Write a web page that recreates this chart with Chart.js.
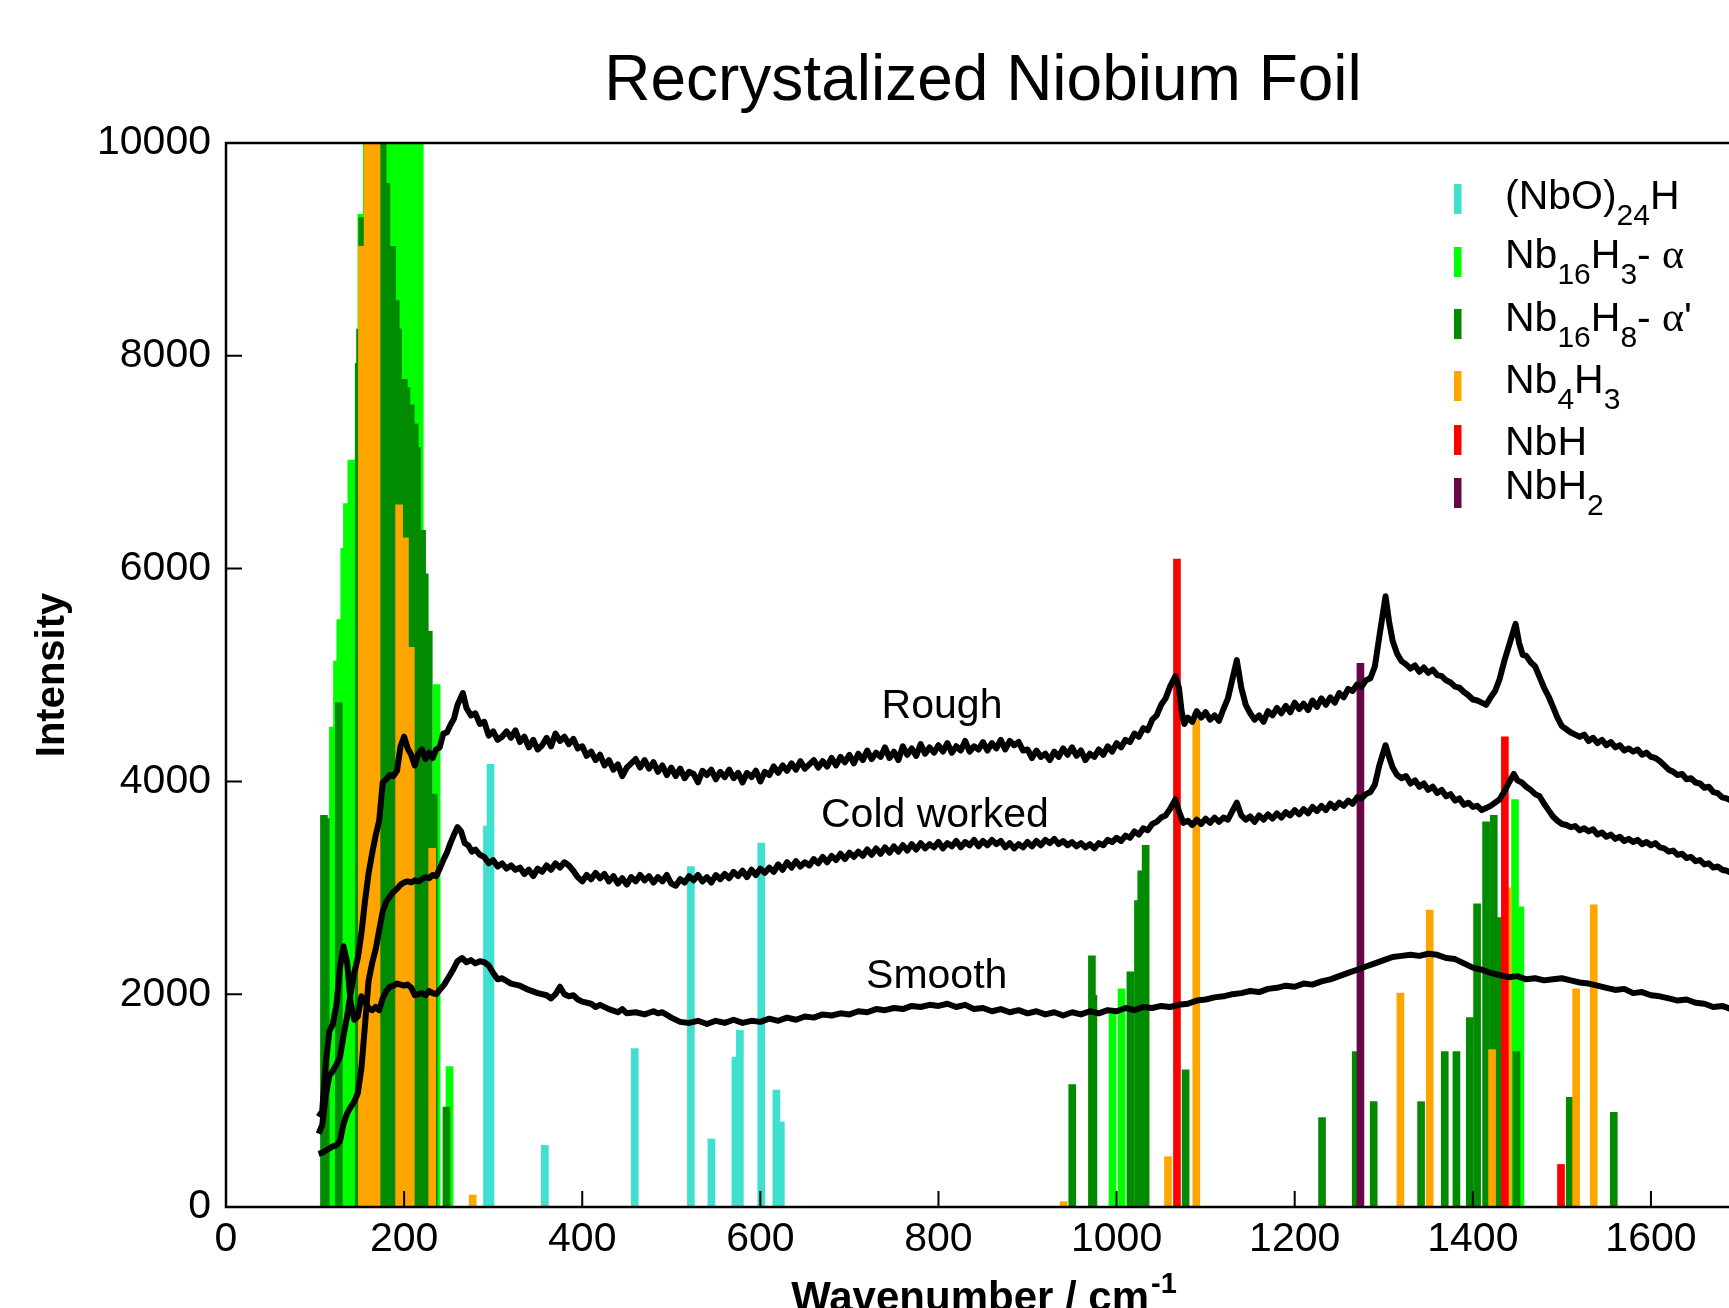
<!DOCTYPE html>
<html>
<head>
<meta charset="utf-8">
<title>Recrystalized Niobium Foil</title>
<script src="https://cdn.jsdelivr.net/npm/chart.js@4.4.1/dist/chart.umd.min.js"></script>
<style>
  html, body { margin: 0; padding: 0; background: #fff; overflow: hidden; }
  #wrap { position: absolute; left: 0; top: 0; width: 1760px; height: 1308px; }
</style>
</head>
<body>
<div id="wrap"><canvas id="ramanChart"></canvas></div>
<script>

// reference lines, [wavenumber, intensity]
var nboH = [[293,3580],[297,4160],[358,580],[459,1490],[522,3200],[545,640],[572,1410],[577,1660],[601,3420],[618,1100],[623,800]];

var nb16h3 = [[120,4510],[124.6,5130],[128.3,5520],[132.8,6190],[135.8,6610],[140.7,7020],[152,9330],[158,10600],[164,11200],
  [170,11800],[176,12100],[182,11900],[188,11500],[194,11200],[200,10900],[206,10700],[212,10500],[217.6,10300],
  [236.5,4910],[251,1320],[995.5,1810],[1005.6,2050],[1447.4,3830],[1453.4,2820]];

var nb16h8 = [[110,3680],[112,3650],[126.7,4740],[149,7930],[150.5,8250],[153,9300],[160,10800],[168,11500],[176,11800],
  [180.1,9620],[186.5,9030],[190.6,8520],[193.2,8250],[199.6,7780],[202.6,7700],[207.5,7540],[212,7360],[214.6,7140],
  [220.2,6360],[223.2,5950],[227.7,5410],[233.3,3880],[247.5,940],[950.2,1150],[972.3,2360],[974,1990],
  [1015.5,2210],[1024,2880],[1027.7,3160],[1032.6,3400],[1077.5,1290],[1230.7,840],[1268.5,1460],[1288.7,990],
  [1341.9,990],[1368.5,1460],[1381.6,1460],[1396.6,1780],[1404.8,2850],[1414.9,3620],[1423.5,3680],[1429.9,2720],
  [1449,1460],[1508.8,1030],[1558.3,890]];

var nb4h3 = [[152.6,9030],[159,11000],[165,11400],[169,11200],[194.4,6600],[200.9,6290],[207.5,5260],[231.5,3370],
  [277,113],[940.5,50],[1057.7,473],[1089.5,4650],[1318.7,2010],[1351.6,2790],[1421.6,1480],[1439,3000],
  [1516,2050],[1535.8,2840]];

var nbH = [[1067.8,6090],[1436,4420],[1499,400]];

var nbH2 = [[1273.8,5110]];

// measured spectra, [wavenumber, intensity]
var rough = [[104,690],[108,770],[112,1050],[116,1230],[120,1280],[124,1340],[128,1410],[132,1610],[136,1790],[140,2010],
  [144,2200],[148,2340],[152,2570],[156,2870],[160,3130],[164,3320],[168,3490],[172,3630],[176,3990],[180,4020],
  [184,4060],[188,4050],[192,4100],[196,4330],[200,4420],[204,4310],[208,4250],[212,4150],[216,4260],[220,4300],
  [224,4210],[228,4270],[232,4220],[236,4300],[240,4320],[244,4450],[248,4460],[252,4530],[256,4590],[260,4720],
  [266,4830],[270,4690],[275,4620],[280,4640],[285,4540],[290,4560],[295,4430],[300,4470],[305,4390],[310,4420],
  [315,4470],[320,4410],[325,4480],[330,4370],[335,4420],[340,4320],[345,4390],[350,4300],[355,4340],[360,4410],
  [365,4330],[370,4450],[375,4380],[380,4420],[385,4350],[390,4400],[395,4310],[400,4330],[405,4240],[410,4280],
  [415,4200],[420,4250],[425,4150],[430,4200],[435,4110],[440,4160],[445,4050],[450,4130],[455,4170],[460,4210],
  [465,4130],[470,4200],[475,4120],[480,4180],[485,4090],[490,4150],[495,4060],[500,4130],[505,4050],[510,4120],
  [515,4030],[520,4090],[525,4070],[530,3990],[535,4100],[540,4060],[545,4110],[550,4020],[555,4090],[560,4040],
  [565,4110],[570,4030],[575,4080],[580,3990],[585,4080],[590,4040],[595,4100],[600,4000],[605,4090],[610,4060],
  [615,4140],[620,4080],[625,4150],[630,4100],[635,4170],[640,4110],[645,4190],[650,4120],[660,4200],[665,4130],
  [670,4190],[675,4140],[680,4220],[685,4150],[690,4230],[695,4180],[700,4250],[705,4170],[710,4260],[715,4200],
  [720,4290],[725,4210],[730,4270],[735,4230],[740,4320],[745,4220],[750,4280],[755,4200],[760,4330],[765,4250],
  [770,4310],[775,4240],[780,4350],[785,4260],[790,4320],[795,4270],[800,4340],[805,4280],[810,4360],[815,4270],
  [820,4330],[825,4290],[830,4380],[835,4280],[840,4330],[845,4300],[850,4370],[855,4290],[860,4360],[865,4310],
  [870,4390],[875,4300],[880,4380],[885,4340],[890,4370],[895,4290],[900,4300],[905,4220],[910,4290],[915,4230],
  [920,4260],[925,4200],[930,4280],[935,4230],[940,4310],[945,4250],[950,4320],[955,4240],[960,4290],[965,4200],
  [970,4260],[975,4230],[980,4300],[985,4250],[990,4330],[995,4280],[1000,4360],[1005,4320],[1010,4390],[1015,4370],
  [1020,4450],[1025,4420],[1030,4500],[1035,4480],[1040,4580],[1045,4620],[1050,4720],[1055,4780],[1060,4890],[1066,4990],
  [1070,4880],[1073,4660],[1076,4540],[1080,4600],[1085,4560],[1090,4660],[1095,4600],[1100,4650],[1105,4580],[1110,4620],
  [1115,4570],[1120,4680],[1125,4780],[1130,4960],[1135,5140],[1140,4880],[1145,4720],[1150,4640],[1155,4580],[1160,4620],
  [1165,4560],[1170,4660],[1175,4620],[1180,4690],[1185,4640],[1190,4710],[1195,4650],[1200,4740],[1205,4680],[1210,4730],
  [1215,4670],[1220,4760],[1225,4700],[1230,4780],[1235,4720],[1240,4790],[1245,4740],[1250,4830],[1255,4790],[1260,4870],
  [1265,4850],[1270,4910],[1275,4890],[1280,4950],[1285,4970],[1290,5080],[1295,5360],[1302,5740],[1306,5500],[1310,5320],
  [1315,5200],[1320,5130],[1325,5100],[1330,5060],[1335,5090],[1340,5030],[1345,5070],[1350,5020],[1355,5050],[1360,5000],
  [1365,4990],[1370,4950],[1375,4930],[1380,4890],[1385,4880],[1390,4840],[1395,4810],[1400,4770],[1405,4760],[1410,4740],
  [1415,4720],[1420,4790],[1425,4850],[1430,4960],[1435,5120],[1440,5260],[1448,5480],[1452,5300],[1456,5190],[1460,5180],
  [1465,5120],[1470,5080],[1475,4980],[1480,4880],[1485,4800],[1490,4700],[1495,4600],[1500,4520],[1505,4490],[1510,4460],
  [1515,4440],[1520,4420],[1525,4440],[1530,4380],[1535,4410],[1540,4360],[1545,4390],[1550,4340],[1555,4370],[1560,4320],
  [1565,4340],[1570,4290],[1575,4310],[1580,4280],[1585,4300],[1590,4250],[1595,4270],[1600,4230],[1605,4220],[1610,4190],
  [1615,4150],[1620,4110],[1625,4090],[1630,4060],[1635,4070],[1640,4020],[1645,4030],[1650,3990],[1655,3980],[1660,3940],
  [1665,3950],[1670,3900],[1675,3890],[1680,3850],[1685,3840],[1690,3820],[1695,3790],[1700,3780]];

var coldWorked = [[104,500],[108,510],[112,530],[116,550],[120,570],[124,580],[128,620],[132,780],[136,880],[140,940],
  [144,990],[148,1070],[152,1300],[156,1700],[160,2120],[164,2290],[168,2420],[172,2600],[176,2780],[180,2870],
  [184,2920],[188,2960],[192,2990],[196,3030],[200,3050],[204,3060],[208,3050],[212,3070],[216,3060],[220,3080],
  [224,3100],[228,3090],[232,3120],[236,3110],[240,3180],[244,3260],[248,3330],[252,3420],[256,3500],[260,3570],
  [264,3530],[268,3420],[272,3400],[276,3340],[280,3360],[285,3310],[290,3290],[295,3230],[300,3260],[305,3200],
  [310,3230],[315,3180],[320,3210],[325,3170],[330,3190],[335,3130],[340,3170],[345,3110],[350,3180],[355,3150],
  [360,3210],[365,3170],[370,3230],[375,3190],[380,3240],[385,3210],[390,3160],[395,3100],[400,3060],[405,3120],
  [410,3080],[415,3140],[420,3090],[425,3130],[430,3060],[435,3110],[440,3040],[445,3090],[450,3030],[455,3100],
  [460,3060],[465,3120],[470,3070],[475,3110],[480,3050],[485,3100],[490,3060],[495,3120],[500,3040],[505,3020],
  [510,3080],[515,3050],[520,3110],[525,3070],[530,3120],[535,3060],[540,3100],[545,3050],[550,3120],[555,3080],
  [560,3130],[565,3090],[570,3150],[575,3110],[580,3160],[585,3100],[590,3170],[595,3120],[600,3180],[605,3140],
  [610,3190],[615,3150],[620,3220],[625,3170],[630,3240],[635,3190],[640,3250],[645,3200],[650,3240],[655,3210],
  [660,3270],[665,3230],[670,3290],[675,3240],[680,3300],[685,3260],[690,3320],[695,3270],[700,3330],[705,3290],
  [710,3340],[715,3300],[720,3360],[725,3310],[730,3370],[735,3320],[740,3380],[745,3330],[750,3390],[755,3340],
  [760,3400],[765,3350],[770,3410],[775,3360],[780,3420],[785,3370],[790,3410],[795,3380],[800,3430],[805,3370],
  [810,3420],[815,3390],[820,3440],[825,3380],[830,3430],[835,3400],[840,3450],[845,3390],[850,3440],[855,3400],
  [860,3450],[865,3410],[870,3440],[875,3380],[880,3420],[885,3370],[890,3410],[895,3380],[900,3430],[905,3390],
  [910,3440],[915,3400],[920,3450],[925,3420],[930,3460],[935,3410],[940,3440],[945,3400],[950,3430],[955,3390],
  [960,3420],[965,3380],[970,3410],[975,3370],[980,3420],[985,3400],[990,3450],[995,3430],[1000,3470],[1005,3440],
  [1010,3490],[1015,3470],[1020,3530],[1025,3500],[1030,3560],[1035,3540],[1040,3600],[1045,3620],[1050,3660],[1055,3680],
  [1060,3740],[1066,3830],[1070,3720],[1075,3610],[1080,3630],[1085,3590],[1090,3640],[1095,3600],[1100,3650],[1105,3610],
  [1110,3660],[1115,3620],[1120,3660],[1125,3640],[1130,3720],[1135,3800],[1140,3680],[1145,3640],[1150,3670],[1155,3620],
  [1160,3680],[1165,3640],[1170,3690],[1175,3650],[1180,3700],[1185,3660],[1190,3710],[1195,3680],[1200,3730],[1205,3690],
  [1210,3740],[1215,3700],[1220,3760],[1225,3720],[1230,3770],[1235,3730],[1240,3790],[1245,3750],[1250,3800],[1255,3770],
  [1260,3820],[1265,3790],[1270,3850],[1275,3840],[1280,3880],[1285,3900],[1290,3970],[1295,4150],[1302,4340],[1306,4230],
  [1310,4130],[1315,4060],[1320,4030],[1325,4050],[1330,3980],[1335,4010],[1340,3950],[1345,3980],[1350,3920],[1355,3950],
  [1360,3890],[1365,3920],[1370,3860],[1375,3880],[1380,3820],[1385,3840],[1390,3780],[1395,3800],[1400,3760],[1405,3770],
  [1410,3730],[1415,3750],[1420,3770],[1425,3800],[1430,3830],[1435,3900],[1440,3980],[1446,4070],[1450,4010],[1455,3990],
  [1460,3950],[1465,3920],[1470,3880],[1475,3860],[1480,3790],[1485,3730],[1490,3670],[1495,3630],[1500,3600],[1505,3590],
  [1510,3570],[1515,3580],[1520,3540],[1525,3560],[1530,3530],[1535,3550],[1540,3500],[1545,3520],[1550,3480],[1555,3500],
  [1560,3460],[1565,3480],[1570,3440],[1575,3460],[1580,3430],[1585,3450],[1590,3410],[1595,3430],[1600,3400],[1605,3420],
  [1610,3380],[1615,3370],[1620,3340],[1625,3350],[1630,3310],[1635,3320],[1640,3280],[1645,3290],[1650,3250],[1655,3260],
  [1660,3220],[1665,3230],[1670,3190],[1675,3200],[1680,3170],[1685,3160],[1690,3140],[1695,3130],[1700,3110]];

var smooth = [[104,850],[108,900],[112,1350],[116,1650],[120,1720],[124,1900],[128,2250],[132,2450],[136,2300],[140,1920],
  [144,1760],[148,1790],[152,1980],[156,1930],[160,1870],[164,1850],[168,1880],[172,1850],[176,1960],[180,2030],
  [184,2070],[188,2080],[192,2100],[196,2090],[200,2080],[204,2090],[208,2060],[212,1990],[216,2000],[220,2010],
  [224,1990],[228,2030],[232,2010],[236,2000],[240,2040],[245,2090],[250,2160],[255,2230],[260,2310],[265,2340],
  [270,2300],[275,2320],[280,2290],[285,2310],[290,2300],[295,2270],[300,2200],[305,2140],[310,2150],[320,2100],
  [330,2080],[340,2040],[350,2010],[360,1990],[365,1960],[370,2000],[375,2070],[380,2000],[385,1980],[390,1990],
  [395,1950],[400,1930],[410,1910],[415,1880],[420,1900],[430,1860],[440,1830],[445,1860],[450,1820],[460,1830],
  [470,1810],[480,1840],[485,1820],[490,1830],[500,1780],[510,1740],[520,1730],[530,1750],[540,1720],[550,1750],
  [560,1730],[570,1760],[580,1730],[590,1750],[600,1740],[610,1770],[620,1750],[630,1780],[640,1760],[650,1790],
  [660,1780],[670,1810],[680,1800],[690,1820],[700,1810],[710,1840],[720,1830],[730,1860],[740,1850],[750,1870],
  [760,1860],[770,1890],[780,1880],[790,1900],[800,1890],[810,1910],[820,1880],[830,1900],[840,1860],[850,1870],
  [860,1840],[870,1860],[880,1830],[890,1850],[900,1820],[910,1840],[920,1810],[930,1830],[940,1800],[950,1830],
  [960,1810],[970,1840],[980,1820],[990,1850],[1000,1840],[1010,1870],[1020,1850],[1030,1880],[1040,1870],[1050,1890],
  [1060,1880],[1070,1900],[1080,1910],[1090,1940],[1100,1950],[1110,1970],[1120,1980],[1130,2000],[1140,2010],[1150,2030],
  [1160,2020],[1170,2050],[1180,2060],[1190,2080],[1200,2070],[1210,2100],[1220,2090],[1230,2120],[1240,2140],[1250,2170],
  [1260,2200],[1270,2230],[1280,2260],[1290,2290],[1300,2320],[1310,2350],[1320,2360],[1330,2370],[1340,2360],[1350,2380],
  [1360,2370],[1370,2340],[1380,2330],[1390,2290],[1400,2250],[1410,2230],[1420,2200],[1430,2180],[1440,2160],[1450,2170],
  [1460,2140],[1470,2150],[1480,2130],[1490,2140],[1500,2150],[1510,2130],[1520,2110],[1530,2100],[1540,2080],[1550,2060],
  [1560,2040],[1570,2050],[1580,2010],[1590,2020],[1600,1990],[1610,1980],[1620,1960],[1630,1940],[1640,1950],[1650,1920],
  [1660,1910],[1670,1880],[1680,1890],[1690,1860],[1700,1850]];

// curve names, placed at [wavenumber, intensity] of the text baseline
var curveLabels = [['Rough', 804, 4600], ['Cold worked', 796, 3570], ['Smooth', 798, 2060]];

var xTicks = [0, 200, 400, 600, 800, 1000, 1200, 1400, 1600];
var yTicks = [0, 2000, 4000, 6000, 8000, 10000];

var phaseColors = {
  nboH: '#40E0D0',
  nb16h3: '#00FF00',
  nb16h8: '#008B00',
  nb4h3: '#FFA500',
  nbH: '#FF0000',
  nbH2: '#670748'
};

// legend text pieces: n = normal, s = subscript, g = greek
var legendRows = [
  { color: phaseColors.nboH,   parts: [['(NbO)','n'],['24','s'],['H','n']] },
  { color: phaseColors.nb16h3, parts: [['Nb','n'],['16','s'],['H','n'],['3','s'],['- ','n'],['\u03B1','g']] },
  { color: phaseColors.nb16h8, parts: [['Nb','n'],['16','s'],['H','n'],['8','s'],['- ','n'],['\u03B1','g'],["'",'n']] },
  { color: phaseColors.nb4h3,  parts: [['Nb','n'],['4','s'],['H','n'],['3','s']] },
  { color: phaseColors.nbH,    parts: [['NbH','n']] },
  { color: phaseColors.nbH2,   parts: [['NbH','n'],['2','s']] }
];

var chartTitle = 'Recrystalized Niobium Foil';

function toPoints(arr) {
  return arr.map(function (p) { return { x: p[0], y: p[1] }; });
}

function barSet(label, arr, color, order) {
  return {
    type: 'bar',
    label: label,
    data: toPoints(arr),
    backgroundColor: color,
    borderWidth: 0,
    barThickness: 7,
    grouped: false,
    order: order,
    clip: 0
  };
}

function lineSet(label, arr) {
  return {
    type: 'line',
    label: label,
    data: toPoints(arr),
    borderColor: '#000',
    borderWidth: 6,
    pointRadius: 0,
    pointHitRadius: 0,
    tension: 0,
    borderJoinStyle: 'round',
    order: 0,
    clip: 0
  };
}

var SANS = '"Liberation Sans", Arial, Helvetica, sans-serif';

var decorations = {
  id: 'decorations',
  afterDatasetsDraw: function (chart) {
    var ctx = chart.ctx, a = chart.chartArea, xs = chart.scales.x, ys = chart.scales.y;
    ctx.save();
    // frame + inward ticks
    ctx.strokeStyle = '#000';
    ctx.lineWidth = 2.5;
    ctx.strokeRect(a.left, a.top, a.right - a.left, a.bottom - a.top);
    ctx.lineWidth = 2;
    ctx.beginPath();
    xTicks.forEach(function (v) {
      var px = xs.getPixelForValue(v);
      ctx.moveTo(px, a.bottom); ctx.lineTo(px, a.bottom - 16);
    });
    yTicks.forEach(function (v) {
      var py = ys.getPixelForValue(v);
      ctx.moveTo(a.left, py); ctx.lineTo(a.left + 16, py);
    });
    ctx.stroke();

    ctx.fillStyle = '#000';
    ctx.textBaseline = 'alphabetic';
    ctx.textAlign = 'center';
    ctx.font = '41px ' + SANS;
    curveLabels.forEach(function (c) {
      ctx.fillText(c[0], xs.getPixelForValue(c[1]), ys.getPixelForValue(c[2]));
    });
    ctx.restore();
  },
  afterDraw: function (chart) {
    var ctx = chart.ctx, a = chart.chartArea;
    ctx.save();
    ctx.fillStyle = '#000';

    // title, centred over the plot box
    ctx.textAlign = 'center';
    ctx.textBaseline = 'alphabetic';
    ctx.font = '64px ' + SANS;
    ctx.fillText(chartTitle, (a.left + a.right) / 2, 100);

    ctx.textAlign = 'left';

    // legend
    var baselines = [209, 268, 331, 393, 455, 499];
    var markTops = [184, 247, 309, 371, 425, 478];
    legendRows.forEach(function (row, i) {
      ctx.fillStyle = row.color;
      ctx.fillRect(1454, markTops[i], 7.5, 30);
      ctx.fillStyle = '#000';
      var x = 1505;
      row.parts.forEach(function (p) {
        var y = baselines[i];
        if (p[1] === 's') { ctx.font = '30px ' + SANS; y += 16; }
        else if (p[1] === 'g') { ctx.font = '42px "Liberation Serif", "DejaVu Serif", serif'; }
        else { ctx.font = '41px ' + SANS; }
        ctx.fillText(p[0], x, y);
        x += ctx.measureText(p[0]).width;
      });
    });

    // x axis title with superscript
    var main = 'Wavenumber / cm', sup = '-1';
    ctx.font = 'bold 42px ' + SANS;
    var wMain = ctx.measureText(main).width;
    ctx.font = 'bold 29px ' + SANS;
    var wSup = ctx.measureText(sup).width;
    var x0 = (a.left + a.right) / 2 - (wMain + wSup) / 2;
    ctx.font = 'bold 42px ' + SANS;
    ctx.fillText(main, x0, a.bottom + 104);
    ctx.font = 'bold 29px ' + SANS;
    ctx.fillText(sup, x0 + wMain + 2, a.bottom + 86);
    ctx.restore();
  }
};

Chart.defaults.font.family = SANS;
Chart.defaults.color = '#000';

function plainNumber(v) { return String(v); }

var ramanChart = document.getElementById('ramanChart').getContext('2d');
new Chart(ramanChart, {
  type: 'bar',
  data: {
    datasets: [
      lineSet('Rough', rough),
      lineSet('Cold worked', coldWorked),
      lineSet('Smooth', smooth),
      barSet('NbH2', nbH2, phaseColors.nbH2, 1),
      barSet('NbH', nbH, phaseColors.nbH, 2),
      barSet('(NbO)24H', nboH, phaseColors.nboH, 3),
      barSet('Nb4H3', nb4h3, phaseColors.nb4h3, 4),
      barSet('Nb16H8 - alpha\'', nb16h8, phaseColors.nb16h8, 5),
      barSet('Nb16H3 - alpha', nb16h3, phaseColors.nb16h3, 6)
    ]
  },
  options: {
    responsive: true,
    maintainAspectRatio: false,
    animation: false,
    layout: { padding: { left: 0, right: 20, top: 143, bottom: 0 } },
    plugins: {
      legend: { display: false },
      tooltip: { enabled: false },
      title: { display: false }
    },
    scales: {
      x: {
        type: 'linear',
        min: 0,
        max: 1700,
        offset: false,
        grid: { display: false, drawTicks: false },
        border: { display: false },
        ticks: {
          stepSize: 200,
          includeBounds: false,
          padding: 8,
          color: '#000',
          font: { size: 41 },
          maxRotation: 0,
          callback: plainNumber
        },
        afterFit: function (s) { s.height = 101; }
      },
      y: {
        min: 0,
        max: 10000,
        grid: { display: false, drawTicks: false },
        border: { display: false },
        ticks: {
          stepSize: 2000,
          padding: 15,
          color: '#000',
          font: { size: 41 },
          callback: plainNumber
        },
        title: {
          display: true,
          text: 'Intensity',
          color: '#000',
          font: { size: 40, weight: 'bold' },
          padding: { top: 29, bottom: 0 }
        },
        afterFit: function (s) { s.width = 226; }
      }
    }
  },
  plugins: [decorations]
});
</script>
</body>
</html>
